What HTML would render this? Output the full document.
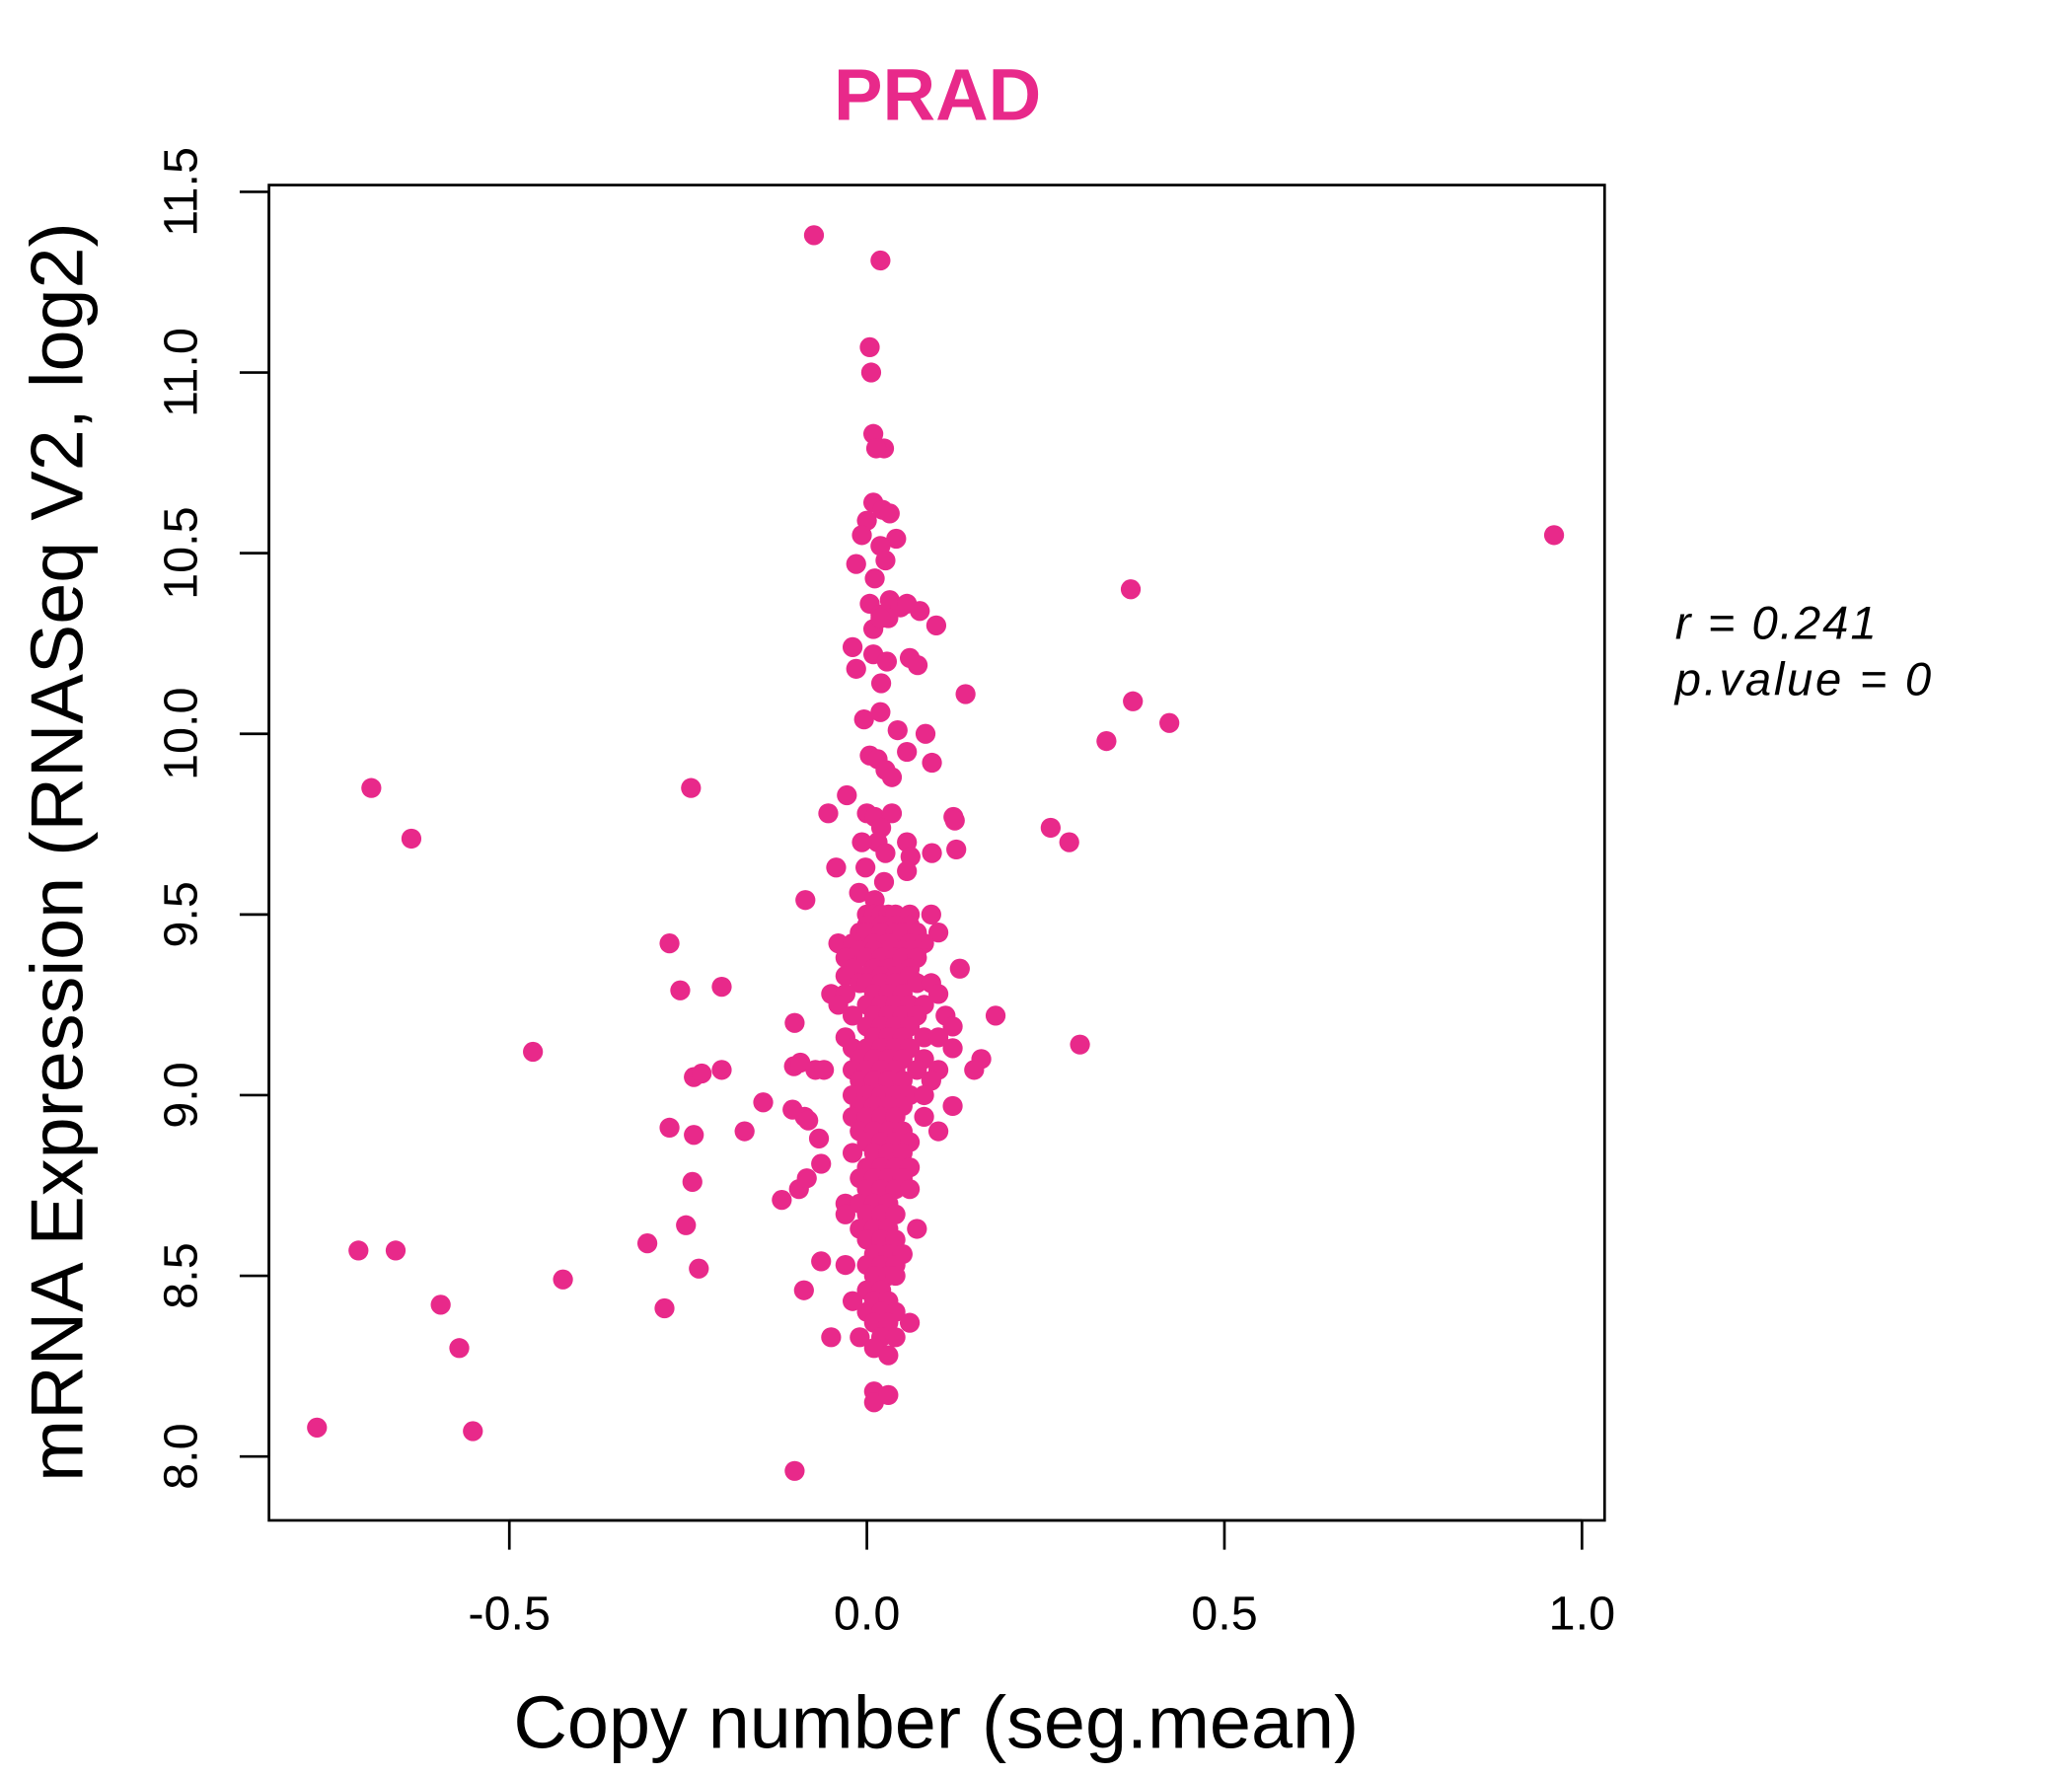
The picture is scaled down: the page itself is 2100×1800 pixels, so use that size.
<!DOCTYPE html>
<html><head><meta charset="utf-8"><style>
html,body{margin:0;padding:0;background:#fff}
svg{display:block}
text{font-family:"Liberation Sans",sans-serif}
</style></head><body>
<svg id="chart" width="2100" height="1800" viewBox="0 0 1556 1334" preserveAspectRatio="none" xmlns="http://www.w3.org/2000/svg">
<rect width="1556" height="1334" fill="#fff"/>
<text x="704" y="90" text-anchor="middle" font-size="55" font-weight="bold" fill="#E8298A">PRAD</text>
<rect x="202" y="139" width="1003" height="1003" fill="none" stroke="#000" stroke-width="2"/>
<g id="xaxis"></g>
<g id="yaxis"></g>
<g id="points"></g>
<text x="703" y="1313" text-anchor="middle" font-size="56">Copy number (seg.mean)</text>
<text transform="translate(62,640) rotate(-90)" text-anchor="middle" font-size="56">mRNA Expression (RNASeq V2, log2)</text>
<text x="1258" y="480" font-size="35" font-style="italic" letter-spacing="1.5">r = 0.241</text>
<text x="1258" y="522" font-size="35" font-style="italic" letter-spacing="2">p.value = 0</text>
</svg>
<script>
const xTicks = [-0.5, 0.0, 0.5, 1.0];
const xTickLabels = ["-0.5", "0.0", "0.5", "1.0"];
const yTicks = [8.0, 8.5, 9.0, 9.5, 10.0, 10.5, 11.0, 11.5];
const yTickLabels = ["8.0", "8.5", "9.0", "9.5", "10.0", "10.5", "11.0", "11.5"];
const outX = [-0.074,0.019,0.004,0.006,0.009,0.024,0.013,0.961,0.369,0.372,0.423,0.335,0.257,0.283,0.298,-0.693,-0.637,-0.246,-0.467,-0.711,-0.659,-0.596,-0.570,-0.769,-0.551,-0.425,-0.307,-0.283,-0.276,-0.261,-0.203,-0.276,-0.242,-0.244,-0.253,-0.235,-0.242,-0.231,-0.203,-0.145,-0.171,-0.119,-0.101,-0.101,-0.086,-0.054,-0.028,-0.043,-0.102,-0.093,-0.104,-0.087,-0.082,-0.067,-0.064,-0.095,-0.084,-0.088,-0.064,-0.050,-0.072];
const outY = [11.38,11.31,11.07,11.0,10.83,10.79,10.79,10.55,10.40,10.09,10.03,9.98,9.74,9.70,9.14,9.85,9.71,9.85,9.12,8.57,8.57,8.42,8.30,8.08,8.07,8.49,8.59,8.41,9.42,9.29,9.30,8.91,8.89,8.76,8.64,8.52,9.05,9.06,9.07,8.98,8.90,8.71,7.96,9.20,9.54,9.78,9.83,9.63,9.08,9.09,8.96,8.94,8.93,8.88,8.81,8.74,8.77,8.46,8.54,8.33,9.07];
const upX = [0.009,0.022,0.032,0.0,-0.007,0.041,0.019,0.026,-0.015,0.011,0.004,0.019,0.032,0.047,0.056,0.074,0.030,0.097,0.009,0.019,-0.020,0.009,0.060,0.071,-0.015,0.028,0.020,0.138,0.019,-0.004,0.043,0.082,0.056,0.004,0.015,0.026,0.035,0.091,0.0,0.011,0.035,0.020,0.121,0.123,0.015,-0.007,0.056,0.026,0.091,0.125,0.061,0.056,-0.002,0.024,-0.011,0.011,0.017];
const upY = [10.64,10.62,10.61,10.59,10.55,10.54,10.52,10.48,10.47,10.43,10.36,10.33,10.37,10.35,10.36,10.34,10.32,10.30,10.29,10.32,10.24,10.22,10.21,10.19,10.18,10.20,10.14,10.11,10.06,10.04,10.01,10.00,9.95,9.94,9.93,9.90,9.88,9.92,9.78,9.77,9.78,9.74,9.77,9.76,9.70,9.70,9.70,9.67,9.67,9.68,9.66,9.62,9.63,9.59,9.56,9.54,9.49];
const rowY = [9.5,9.47,9.45,9.42,9.4,9.38,9.35,9.33,9.31,9.28,9.25,9.22,9.19,9.16,9.13,9.1,9.07,9.04,9.0,8.97,8.94,8.9,8.87,8.84,8.8,8.77,8.74,8.7,8.67,8.63,8.6,8.56,8.53,8.5,8.46,8.43,8.4,8.37,8.33,8.3,8.28,8.18,8.15,8.17];
const rowX = [[0.0,0.01,0.02,0.03,0.04,0.06,0.09],[0.0,0.02,0.04,0.06],[-0.01,0.0,0.02,0.04,0.05,0.07,0.1],[-0.04,-0.02,0.01,0.03,0.06,0.08],[-0.01,0.01,0.03,0.05,0.07],[-0.03,0.0,0.02,0.04,0.05,0.07],[-0.02,0.01,0.03,0.06,0.13],[-0.03,0.0,0.02,0.04,0.06],[-0.01,0.0,0.02,0.04,0.07,0.09],[-0.05,-0.03,0.01,0.03,0.05,0.1],[-0.04,0.0,0.02,0.04,0.06,0.08],[-0.02,0.01,0.03,0.05,0.07,0.11,0.18],[0.0,0.02,0.04,0.06,0.12],[-0.03,0.01,0.03,0.05,0.08,0.1],[-0.02,0.0,0.02,0.04,0.06,0.12],[-0.01,0.01,0.03,0.05,0.08,0.16],[-0.06,-0.02,0.0,0.02,0.04,0.07,0.1,0.15],[-0.01,0.01,0.03,0.05,0.09],[-0.02,0.0,0.02,0.04,0.06,0.08],[-0.01,0.01,0.03,0.05,0.12],[-0.02,0.0,0.02,0.04,0.08],[-0.01,0.01,0.03,0.05,0.1],[0.0,0.02,0.04,0.06],[-0.02,0.01,0.03,0.05],[0.0,0.02,0.04,0.06],[-0.01,0.01,0.03,0.05],[0.0,0.02,0.04,0.06],[-0.03,-0.01,0.01,0.03],[-0.03,0.0,0.02,0.04],[-0.01,0.01,0.03,0.07],[0.0,0.02,0.04],[0.01,0.03,0.05],[-0.03,0.0,0.02,0.04],[0.01,0.03,0.04],[0.0,0.02],[-0.02,0.01,0.03],[0.0,0.02,0.04],[0.01,0.03,0.06],[-0.01,0.02,0.04],[0.01],[0.03],[0.01],[0.01],[0.03]];

const NS = "http://www.w3.org/2000/svg";
function sx(v){ return 651 + v * 537; }
function sy(v){ return 1094 - (v - 8) * 271.4; }
const xa = document.getElementById('xaxis');
const ya = document.getElementById('yaxis');
const pts = document.getElementById('points');
function mk(tag, attrs, parent){ const e = document.createElementNS(NS, tag); for (const k in attrs) e.setAttribute(k, attrs[k]); parent.appendChild(e); return e; }

mk('line', {x1: sx(xTicks[0]), x2: sx(xTicks[xTicks.length-1]), y1: 1142, y2: 1142, stroke: '#000', 'stroke-width': 2}, xa);
xTicks.forEach((t, i) => {
  const l = mk('line', {x1: sx(t), x2: sx(t), y1: 1142, y2: 1164, stroke: '#000', 'stroke-width': 2}, xa);
  
  
  const tx = mk('text', {x: sx(t), y: 1224, 'text-anchor': 'middle', 'font-size': 36}, xa);
  tx.textContent = xTickLabels[i];
  
  
});
mk('line', {x1: 202, x2: 202, y1: sy(yTicks[0]), y2: sy(yTicks[yTicks.length-1]), stroke: '#000', 'stroke-width': 2}, ya);
yTicks.forEach((t, i) => {
  const l = mk('line', {x1: 180, x2: 202, y1: sy(t), y2: sy(t), stroke: '#000', 'stroke-width': 2}, ya);
  
  
  const tx = mk('text', {transform: 'translate(148,' + sy(t) + ') rotate(-90)', 'text-anchor': 'middle', 'font-size': 36}, ya);
  tx.textContent = yTickLabels[i];
  
  
});
function dot(x, y){
  const c = mk('circle', {cx: sx(x), cy: sy(y), r: 7.5, fill: '#E8298A'}, pts);
  
  
}
outX.forEach((x, i) => dot(x, outY[i]));
upX.forEach((x, i) => dot(x, upY[i]));
rowY.forEach((y, i) => rowX[i].forEach(x => dot(x, y)));
</script>
</body></html>
